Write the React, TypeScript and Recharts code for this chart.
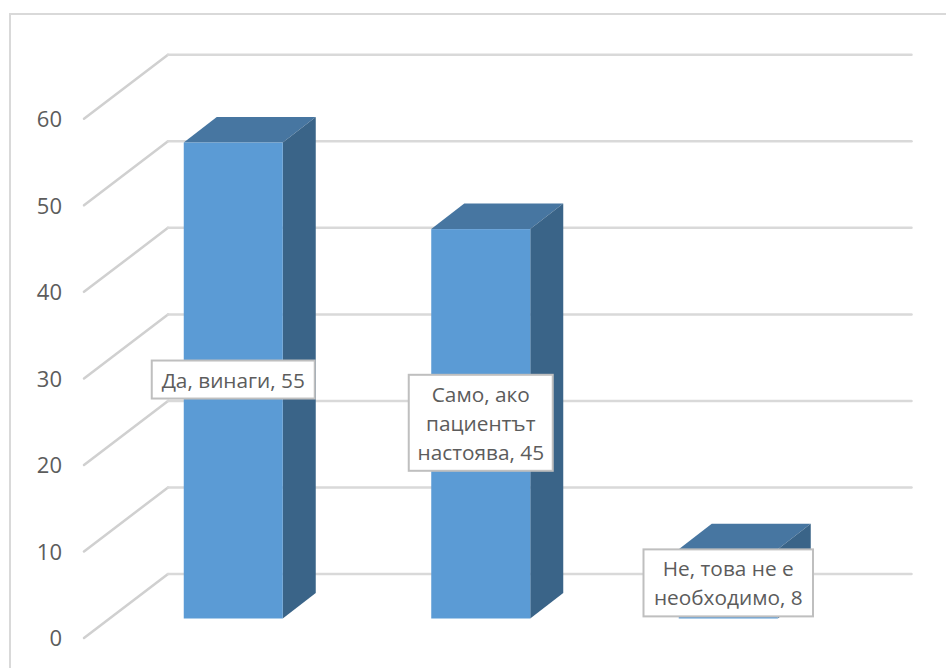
import React from 'react'
import { BarChart, Bar, CartesianGrid, LabelList, XAxis, YAxis } from 'recharts'

const categories = ['Да, винаги', 'Само, ако пациентът настоява', 'Не, това не е необходимо']
const values = [55, 45, 8]
const yTicks = [0, 10, 20, 30, 40, 50, 60]
// how each category breaks inside its callout box
const categoryLines = [['Да, винаги'], ['Само, ако', 'пациентът', 'настоява'], ['Не, това не е', 'необходимо']]

const data = categories.map((name, i) => ({ name, value: values[i] }))

const FONT = '"Open Sans", sans-serif'
const TEXT_COLOR = '#5c5c5c'

// depth of the fake 3D floor
const FLOOR_DX = 84
const FLOOR_DY = 64
// bars sit partway back on the floor
const BAR_DX = 25.75
const BAR_DY = 19.5
// depth of each cube
const CUBE_DX = 33
const CUBE_DY = 25.5

const boxWidths = [163, 144, 169.5]
const LINE_HEIGHT = 29

const GridLine = (props: any) => {
  const { x1, y1, x2 } = props
  const backY = y1 - FLOOR_DY
  return (
    <g key={props.key ?? y1} fill="none" strokeLinecap="round" strokeLinejoin="round">
      <line x1={x1} y1={y1} x2={x1 + FLOOR_DX} y2={backY} stroke="#d0d0d0" strokeWidth={2.5} />
      <line x1={x1 + FLOOR_DX} y1={backY} x2={x2 + FLOOR_DX + 1} y2={backY} stroke="#d9d9d9" strokeWidth={2.5} />
    </g>
  )
}

const Cube = (props: any) => {
  const { x, y, width, height } = props
  const left = x + BAR_DX
  const right = left + width
  const top = y - BAR_DY
  const bottom = top + height
  return (
    <g>
      <polygon
        points={`${left},${top} ${left + CUBE_DX},${top - CUBE_DY} ${right + CUBE_DX},${top - CUBE_DY} ${right},${top}`}
        fill="#4776a1"
      />
      <polygon
        points={`${right},${top} ${right + CUBE_DX},${top - CUBE_DY} ${right + CUBE_DX},${bottom - CUBE_DY} ${right},${bottom}`}
        fill="#3a6488"
      />
      <rect x={left} y={top} width={width} height={height} fill="#5b9bd5" />
    </g>
  )
}

const Callout = (props: any) => {
  const { x, y, width, height, value, index } = props
  const lines = [...categoryLines[index]]
  lines[lines.length - 1] += `, ${value}`
  const boxW = boxWidths[index]
  const boxH = lines.length * LINE_HEIGHT + 9
  const cx = x + BAR_DX + width / 2
  const cy = y - BAR_DY + height / 2 - 1
  return (
    <g>
      <rect x={cx - boxW / 2} y={cy - boxH / 2} width={boxW} height={boxH} fill="#ffffff" stroke="#bfbfbf" strokeWidth={2} />
      {lines.map((line, i) => (
        <text
          key={i}
          x={cx}
          y={cy + (i - (lines.length - 1) / 2) * LINE_HEIGHT}
          textAnchor="middle"
          dominantBaseline="central"
          fontFamily={FONT}
          fontSize={20.8}
          fill={TEXT_COLOR}
        >
          {line}
        </text>
      ))}
    </g>
  )
}

export default function App() {
  return (
    <div style={{ position: 'absolute', left: 0, top: 0, width: 946, height: 668, background: '#fff', overflow: 'hidden' }}>
      {/* chart frame, only its top and left edges are in view */}
      <div style={{ position: 'absolute', left: 9, top: 13, right: 0, bottom: 0, borderTop: '2px solid #d9d9d9', borderLeft: '2px solid #d9d9d9' }} />
      <div style={{ position: 'absolute', left: 0, top: 0 }}>
        <BarChart width={946} height={668} data={data} margin={{ top: 118.8, right: 119.5, bottom: 30, left: 0 }} barSize={99}>
          <CartesianGrid vertical={false} horizontal={GridLine} />
          <XAxis dataKey="name" hide />
          <YAxis
            width={84}
            domain={[0, 60]}
            ticks={yTicks}
            axisLine={false}
            tickLine={false}
            tickSize={0}
            tickMargin={22}
            tick={{ fontFamily: FONT, fontSize: 22, fill: TEXT_COLOR, dy: 0.5 }}
          />
          <Bar dataKey="value" shape={Cube} isAnimationActive={false}>
            <LabelList dataKey="value" content={Callout} />
          </Bar>
        </BarChart>
      </div>
    </div>
  )
}
